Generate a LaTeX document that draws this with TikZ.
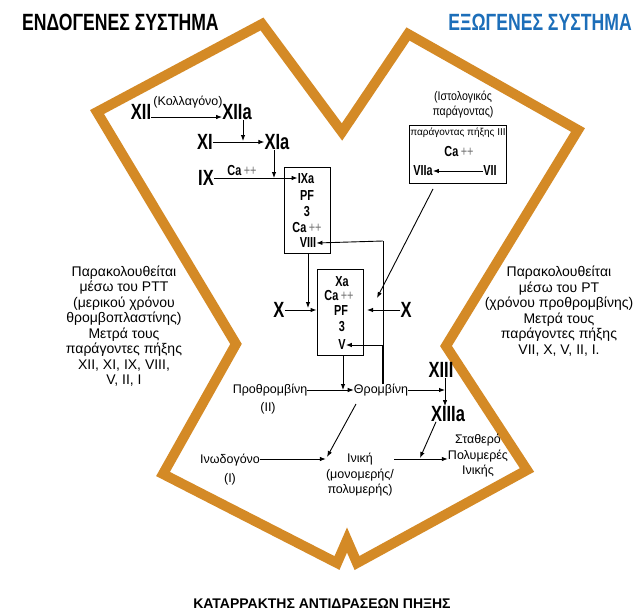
\documentclass[tikz,border=0pt]{standalone}
\usepackage{fontspec}
\setmainfont{Liberation Sans}
\newfontfamily\nar{Liberation Sans}[FakeStretch=0.85]
\newfontfamily\bc{Liberation Sans}[FakeStretch=0.75]
\usetikzlibrary{arrows.meta}
\definecolor{ochre}{RGB}{212,138,38}
\definecolor{tblue}{RGB}{28,110,185}
\tikzset{
  big/.style={font=\bc\bfseries\fontsize{22}{22}\selectfont, inner sep=0pt},
  boxtxt/.style={font=\bc\bfseries\fontsize{14.5}{14.5}\selectfont, inner sep=0pt},
  txt/.style={font=\fontsize{12.5}{15.5}\selectfont, align=center, inner sep=0pt},
  side/.style={font=\fontsize{14}{15.5}\selectfont, align=center, inner sep=0pt},
  title/.style={font=\bc\bfseries\fontsize{23.5}{24}\selectfont, inner sep=0pt},
  arr/.style={-{Latex[length=6pt,width=4.5pt]}, line width=0.9pt},
  plain/.style={line width=0.9pt},
  frame/.style={draw, line width=0.9pt, inner sep=0pt},
  orangeline/.style={draw=ochre, line width=10pt, line join=miter, miter limit=10},
}
\newcommand{\capp}{{\bfseries Ca}\,{\mdseries\color{black!55}++}}
\begin{document}
\begin{tikzpicture}[x=1pt,y=-1pt]
\useasboundingbox (0,0) rectangle (635,613);
% orange outline
\draw[orangeline] (262,24) -- (342,132) -- (408,34) -- (578,130) -- (446,346)
  -- (527,470) -- (357,563) -- (347,540) -- (337,563) -- (163,474)
  -- (236,344) -- (97,112) -- cycle;
% titles
\node[title, anchor=west] (t1) at (22,22) {ΕΝΔΟΓΕΝΕΣ ΣΥΣΤΗΜΑ};
\node[title, anchor=east, text=tblue] (t2) at (632,22) {ΕΞΩΓΕΝΕΣ ΣΥΣΤΗΜΑ};
\node[font=\bfseries\fontsize{14}{14}\selectfont, inner sep=0pt] (t3) at (322,604) {ΚΑΤΑΡΡΑΚΤΗΣ ΑΝΤΙΔΡΑΣΕΩΝ ΠΗΞΗΣ};
% intrinsic cascade
\node[big] (XII) at (141,112) {XII};
\node[big] (XIIa) at (237,112) {XIIa};
\node[font=\fontsize{12.5}{13}\selectfont, inner sep=0pt] (koll) at (188,102) {(Κολλαγόνο)};
\draw[arr] ([yshift=-5pt]XII.east) -- ([yshift=-5pt]XIIa.west);
\node[big] (XI) at (205,142) {XI};
\node[big] (XIa) at (277,142) {XIa};
\draw[arr] (XI.east) -- (XIa.west);
\coordinate (m1) at (243,141);
\draw[arr] ([xshift=6pt]XIIa.south) -- (m1);
\node[big] (IX) at (206,178) {IX};
\node[font=\bc\fontsize{14.5}{14.5}\selectfont, inner sep=0pt] (ca1) at (242,171) {\capp};
% box 1
\node[frame, minimum width=46pt, minimum height=86pt] (box1) at (307,210) {};
\node[boxtxt] (IXa) at (306,179) {IXa};
\node[boxtxt] (PF1) at (307,196) {PF};
\node[boxtxt] (n31) at (307,212) {3};
\node[boxtxt] (ca2) at (307,228) {\capp};
\node[boxtxt] (VIII) at (308,243) {VIII};
\draw[arr] (IX.east |- 0,178) -- (IXa.west |- 0,178);
\coordinate (m2) at (274,178);
\draw[arr] ([xshift=-3pt]XIa.south) -- (m2);
% box 2
\node[frame, minimum width=46pt, minimum height=86pt] (box2) at (340,312) {};
\node[boxtxt] (Xa) at (342,282) {Xa};
\node[boxtxt] (ca3) at (339,296) {\capp};
\node[boxtxt] (PF2) at (341,311) {PF};
\node[boxtxt] (n32) at (342,327) {3};
\node[boxtxt] (V) at (342,345) {V};
\coordinate (m3) at (308,308);
\draw[arr] (box1.south -| m3) -- (m3);
\node[big] (Xl) at (279,310) {X};
\node[big] (Xr) at (406,310) {X};
\draw[arr] (Xl.east) -- (box2.west |- Xl.east);
\coordinate (m4) at (367,310);
\draw[arr] (Xr.west) -- (m4);
% extrinsic
\node[font=\nar\fontsize{12.5}{15}\selectfont, align=center, inner sep=0pt] (isto) at (463,105) {(Ιστολογικός\\παράγοντας)};
\node[frame, minimum width=97pt, minimum height=58pt] (box3) at (458,154) {};
\node[font=\fontsize{10}{10}\selectfont, inner sep=0pt] (III) at (458,133) {παράγοντας πήξης III};
\node[boxtxt] (ca4) at (459,152) {\capp};
\node[boxtxt] (VIIa) at (423,171) {VIIa};
\node[boxtxt] (VII) at (490,171) {VII};
\draw[arr] (VII.west) -- (VIIa.east);
\coordinate (m5) at (433,189);
\coordinate (m6) at (377,298);
\draw[arr] (m5) -- (m6);
% common pathway
\node[txt] (proth) at (270,390) {Προθρομβίνη};
\node[txt] (II) at (268,408) {(II)};
\node[txt] (thr) at (381,390) {Θρομβίνη};
\coordinate (m7) at (343,390);
\draw[arr] (proth.east) -- (thr.west);
\draw[arr] (box2.south -| m7) -- (m7);
\coordinate (fb) at (383,241);
\coordinate (fb2) at (383,345);
\draw[line width=1.6pt] (thr.north -| fb) -- (fb2);
\draw[plain] (fb2) -- (fb);
\draw[arr] (fb) -- (VIII.east);
\draw[arr] (fb2) -- (V.east);
\node[big] (XIII) at (441,370) {XIII};
\node[big] (XIIIa) at (448,414) {XIIIa};
\draw[arr] ([xshift=4pt]XIII.south) -- ([xshift=-3pt]XIIIa.north);
\coordinate (m8) at (445,390);
\draw[arr] (thr.east) -- (m8);
\node[txt] (ino) at (230,460) {Ινωδογόνο};
\node[txt] (I) at (230,479) {(I)};
\node[txt, anchor=north] (ini) at (360,453) {Ινική\\(μονομερής/\\πολυμερής)};
\node[txt] (stath) at (478,456) {Σταθερό\\Πολυμερές\\Ινικής};
\coordinate (m9) at (327,457);
\coordinate (m9s) at (356,404);
\draw[arr] (m9s) -- (m9);
\draw[arr] (ino.east |- 0,459) -- (ini.west |- 0,459);
\draw[arr] (ini.east |- 0,459) -- (stath.west |- 0,459);
\coordinate (m10) at (420,458);
\draw[arr] ([xshift=-12pt]XIIIa.south) -- (m10);
% side texts
\node[side] (left) at (124,326) {Παρακολουθείται\\μέσω του PTT\\(μερικού χρόνου\\θρομβοπλαστίνης)\\Μετρά τους\\παράγοντες πήξης\\XII, XI, IX, VIII,\\V, II, I};
\node[side] (right) at (559,311) {Παρακολουθείται\\μέσω του PT\\(χρόνου προθρομβίνης)\\Μετρά τους\\παράγοντες πήξης\\VII, X, V, II, I.};
\end{tikzpicture}
\end{document}
